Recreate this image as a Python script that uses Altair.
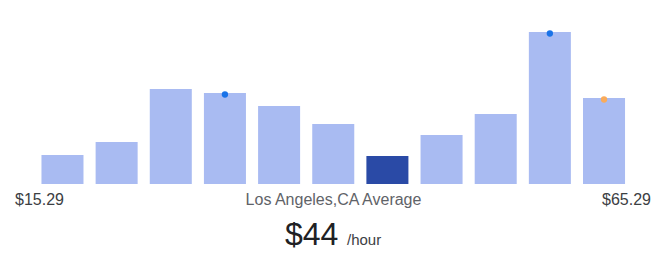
import altair as alt
import pandas as pd

bins = [f"b{i}" for i in range(1, 12)]
counts = [29, 42, 95, 91, 78, 60, 28, 49, 70, 152, 86]
highlight = [False, False, False, False, False, False, True, False, False, False, False]

dot_bins = ["b4", "b10", "b11"]
dot_vals = [91, 152, 86]
dot_kind = ["blue", "blue", "orange"]

min_label = "$15.29"
max_label = "$65.29"
avg_label = "Los Angeles,CA Average"
big_value = "$44"
unit_label = "/hour"

bars_df = pd.DataFrame({"bin": bins, "count": counts, "hl": highlight})
dots_df = pd.DataFrame({"bin": dot_bins, "count": dot_vals, "kind": dot_kind})

xs = alt.Scale(domain=bins, range=[35.4, 631.1], paddingInner=0.224, paddingOuter=0.112)
ys = alt.Scale(domain=[0, 184], range=[184, 0])

bars = alt.Chart(bars_df).mark_bar().encode(
    x=alt.X("bin:N", scale=xs, axis=None, sort=bins),
    y=alt.Y("count:Q", scale=ys, axis=None),
    color=alt.Color("hl:N", scale=alt.Scale(domain=[False, True], range=["#a9bbf2", "#2a4aa6"]), legend=None),
)

dots = alt.Chart(dots_df).mark_point(filled=True, size=40, opacity=1, yOffset=1.5).encode(
    x=alt.X("bin:N", scale=xs, axis=None, sort=bins),
    y=alt.Y("count:Q", scale=ys, axis=None),
    color=alt.Color("kind:N", scale=alt.Scale(domain=["blue", "orange"], range=["#1a73e8", "#f9ab5b"]), legend=None),
)

def txt(label, x, y, size, align, color):
    return alt.Chart(pd.DataFrame({"t": [label]})).mark_text(
        align=align, baseline="alphabetic", fontSize=size, font="Liberation Sans", color=color
    ).encode(text="t:N", x=alt.value(x), y=alt.value(y))

texts = [
    txt(min_label, 15, 205, 16, "left", "#3c4043"),
    txt(max_label, 651, 205, 16, "right", "#3c4043"),
    txt(avg_label, 333.5, 205, 16, "center", "#5f6368"),
    txt(big_value, 285, 245, 32, "left", "#202124"),
    txt(unit_label, 347, 245, 15, "left", "#3c4043"),
]

chart = alt.layer(bars, dots, *texts).resolve_scale(color="independent").properties(
    width=661, height=262, autosize=alt.AutoSizeParams(type="none"), padding=0
).configure_view(strokeWidth=0)

chart.save("out.html", embed_options={"renderer": "svg", "actions": False})
